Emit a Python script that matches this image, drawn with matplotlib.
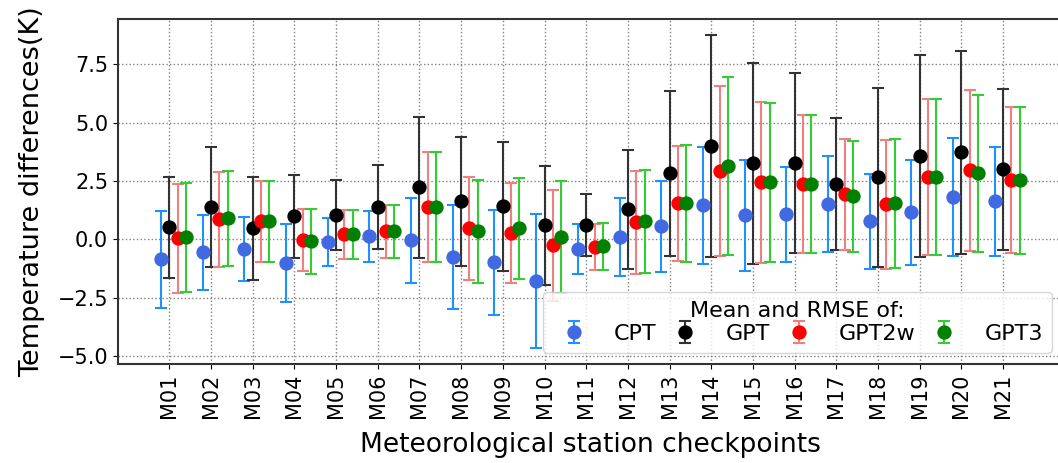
import numpy as np
import matplotlib
matplotlib.use('Agg')
import matplotlib.pyplot as plt

stations = ['M%02d' % i for i in range(1, 22)]

# mean differences and RMSE per model (K)
cpt_mean = [-0.86, -0.56, -0.43, -1.03, -0.10, 0.13, -0.04, -0.77, -0.99, -1.80, -0.43,
            0.09, 0.56, 1.46, 1.03, 1.07, 1.50, 0.77, 1.16, 1.80, 1.63]
cpt_rmse = [2.06, 1.60, 1.37, 1.67, 1.03, 1.09, 1.82, 2.23, 2.27, 2.87, 1.07,
            1.68, 1.95, 2.50, 2.38, 2.04, 2.06, 2.04, 2.25, 2.53, 2.34]

gpt_mean = [0.51, 1.37, 0.47, 0.99, 1.03, 1.37, 2.23, 1.63, 1.41, 0.60, 0.60,
            1.29, 2.83, 4.00, 3.26, 3.26, 2.36, 2.66, 3.56, 3.73, 3.00]
gpt_rmse = [2.15, 2.57, 2.20, 1.78, 1.50, 1.80, 3.02, 2.77, 2.75, 2.55, 1.33,
            2.55, 3.54, 4.77, 4.31, 3.86, 2.83, 3.84, 4.33, 4.35, 3.45]

gpt2w_mean = [0.04, 0.86, 0.77, -0.04, 0.21, 0.34, 1.37, 0.47, 0.26, -0.26, -0.34,
              0.73, 1.54, 2.93, 2.44, 2.36, 1.93, 1.50, 2.66, 2.96, 2.53]
gpt2w_rmse = [2.32, 2.04, 1.72, 1.33, 1.03, 1.12, 2.36, 2.19, 2.14, 2.38, 0.99,
              2.21, 2.47, 3.65, 3.45, 2.96, 2.38, 2.77, 3.35, 3.45, 3.13]

gpt3_mean = [0.09, 0.90, 0.77, -0.09, 0.21, 0.34, 1.37, 0.34, 0.47, 0.09, -0.30,
             0.77, 1.54, 3.14, 2.44, 2.36, 1.84, 1.54, 2.66, 2.83, 2.53]
gpt3_rmse = [2.34, 2.04, 1.72, 1.38, 1.05, 1.12, 2.36, 2.20, 2.16, 2.40, 1.01,
             2.21, 2.50, 3.80, 3.40, 2.96, 2.36, 2.77, 3.35, 3.35, 3.14]

x = np.arange(len(stations))

fig = plt.figure(figsize=(10.58, 4.63), dpi=100)
ax = fig.add_axes([0.1115, 0.2138, 0.893, 0.745])

kw = dict(fmt='o', markersize=9.3, capsize=4, elinewidth=1.5, capthick=1.5)
ax.errorbar(x - 0.2, cpt_mean, yerr=cpt_rmse, color='royalblue', ecolor='dodgerblue', label='CPT', **kw)
ax.errorbar(x, gpt_mean, yerr=gpt_rmse, color='black', ecolor='#333333', label='GPT', **kw)
ax.errorbar(x + 0.2, gpt2w_mean, yerr=gpt2w_rmse, color='red', ecolor='lightcoral', label='GPT2w', **kw)
ax.errorbar(x + 0.4, gpt3_mean, yerr=gpt3_rmse, color='green', ecolor='limegreen', label='GPT3', **kw)

ax.set_xticks(x)
ax.set_xticklabels(stations, rotation=90, fontsize=15)
ax.set_yticks([-5, -2.5, 0, 2.5, 5, 7.5])
ax.tick_params(axis='y', labelsize=15)
ax.grid(True, linestyle=':', color='gray', linewidth=1)
for s in ax.spines.values():
    s.set_linewidth(1.5)
    s.set_color('#333333')

ax.set_xlabel('Meteorological station checkpoints', fontsize=19, labelpad=10)
ax.set_ylabel('Temperature differences(K)', fontsize=19.5, labelpad=9)

ax.legend(loc='lower right', ncol=4, fontsize=16, title='Mean and RMSE of:',
          title_fontsize=16, columnspacing=0.3, labelspacing=0.15)

plt.savefig('out.png', dpi=100)
